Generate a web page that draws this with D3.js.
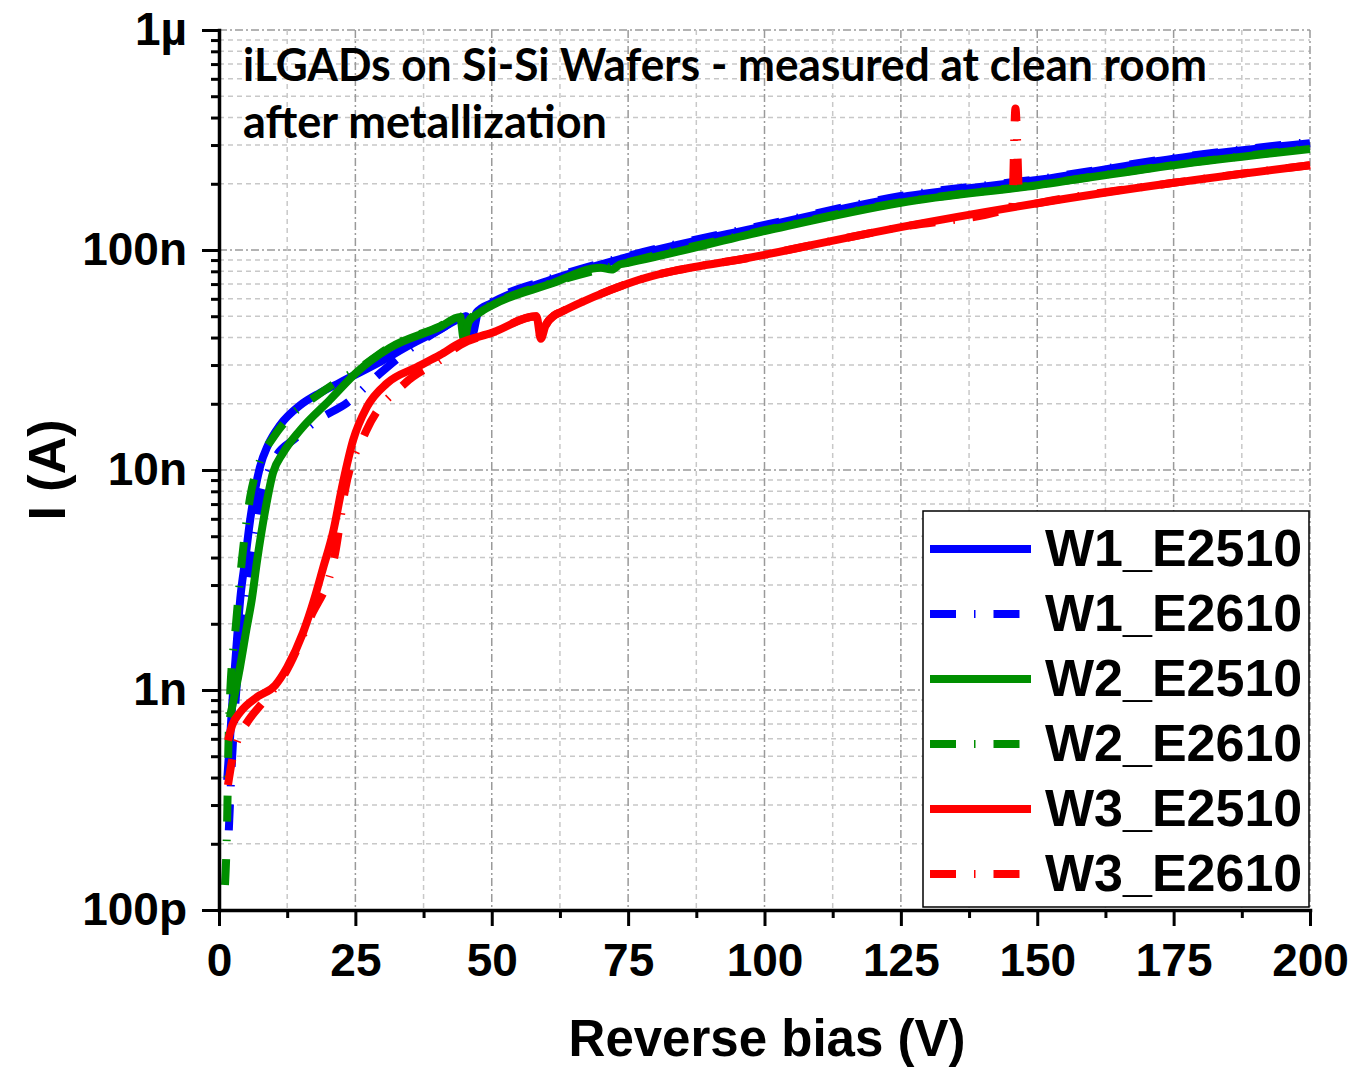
<!DOCTYPE html>
<html>
<head>
<meta charset="utf-8">
<script src="https://cdn.jsdelivr.net/npm/d3@7"></script>
<style>
body { margin: 0; background: #fff; }
svg { display: block; font-family: "Liberation Sans", Arial, sans-serif; font-weight: bold; }
</style>
</head>
<body>
<svg width="1354" height="1068"></svg>
<script>
// tick labels
var yMajor = [1e-10, 1e-9, 1e-8, 1e-7, 1e-6];
var yLabels = ["100p", "1n", "10n", "100n", "1\u00b5"];
var xMajor = [0, 25, 50, 75, 100, 125, 150, 175, 200];
var xMinor = [12.5, 37.5, 62.5, 87.5, 112.5, 137.5, 162.5, 187.5];

// W1_E2510
var v_w1_2510 = [1.5, 2.0, 2.6, 3.3, 3.9, 4.8, 5.7, 6.6, 7.5, 9.0, 11.2, 14.9, 18.5, 22.2, 29.5, 35, 40.5, 44.2, 45.3, 46.2, 47.2, 50, 60.7, 75, 100, 125, 150, 175, 200];
var i_w1_2510 = [3.9e-10, 5.9e-10, 1.0e-9, 1.7e-9, 2.6e-9, 3.9e-9, 5.9e-9, 8.1e-9, 1.03e-8, 1.3e-8, 1.6e-8, 1.97e-8, 2.24e-8, 2.5e-8, 3.1e-8, 3.7e-8, 4.35e-8, 4.9e-8, 5.0e-8, 4.3e-8, 5.2e-8, 5.75e-8, 7.3e-8, 9.3e-8, 1.285e-7, 1.74e-7, 2.08e-7, 2.6e-7, 3.06e-7];
// W1_E2610
var v_w1_2610 = [1.8, 2.4, 3.3, 4.8, 6.2, 7.9, 10, 14.1, 18, 23.5, 29.5, 35, 40.5, 44.2, 45.6, 46.4, 47.5, 50, 60.7, 75, 100, 125, 150, 175, 200];
var i_w1_2610 = [2.3e-10, 4.9e-10, 1.1e-9, 2.6e-9, 4.5e-9, 7.9e-9, 1.1e-8, 1.4e-8, 1.68e-8, 2.02e-8, 2.75e-8, 3.55e-8, 4.35e-8, 4.9e-8, 5.0e-8, 4.1e-8, 5.2e-8, 5.8e-8, 7.4e-8, 9.4e-8, 1.3e-7, 1.76e-7, 2.1e-7, 2.62e-7, 3.1e-7];
// W2_E2510
var v_w2_2510 = [2.0, 3.85, 5.1, 6.0, 7.0, 8.4, 9.9, 11.7, 14.9, 20.3, 25.3, 31.3, 40.5, 44.2, 44.9, 45.7, 47.8, 50, 60.7, 70, 72, 73.5, 75, 100, 125, 150, 175, 200];
var i_w2_2510 = [7.5e-10, 1.27e-9, 1.93e-9, 2.57e-9, 3.9e-9, 6.4e-9, 9.7e-9, 1.19e-8, 1.52e-8, 2.08e-8, 2.79e-8, 3.59e-8, 4.47e-8, 4.96e-8, 3.9e-8, 4.7e-8, 5.2e-8, 5.6e-8, 7.0e-8, 8.3e-8, 8.15e-8, 8.6e-8, 8.75e-8, 1.22e-7, 1.64e-7, 1.97e-7, 2.43e-7, 2.88e-7];
// W2_E2610
var v_w2_2610 = [1.1, 1.5, 1.7, 2.0, 3.1, 4.2, 5.7, 7.5, 9.9, 13, 18.1, 22, 25.3, 31.3, 40.5, 44.2, 45.0, 45.8, 47.8, 50, 60.7, 75, 100, 125, 150, 175, 200];
var i_w2_2610 = [1.3e-10, 2.6e-10, 5.2e-10, 9.0e-10, 1.97e-9, 3.9e-9, 7.5e-9, 1.1e-8, 1.4e-8, 1.75e-8, 2.19e-8, 2.55e-8, 2.85e-8, 3.62e-8, 4.5e-8, 4.98e-8, 4.0e-8, 4.75e-8, 5.25e-8, 5.65e-8, 7.05e-8, 8.8e-8, 1.23e-7, 1.65e-7, 1.98e-7, 2.44e-7, 2.9e-7];
// W3_E2510
var v_w3_2510 = [1.65, 2.4, 3.85, 7.0, 10.3, 12.5, 15.4, 17.4, 19.1, 20.9, 22.7, 24.6, 27.1, 30.8, 36.3, 40.5, 44.2, 50, 58.2, 59.0, 59.8, 61.5, 62.5, 75, 100, 125, 150, 175, 200];
var i_w3_2510 = [5.9e-10, 6.9e-10, 7.9e-10, 9.3e-10, 1.05e-9, 1.27e-9, 1.82e-9, 2.56e-9, 3.6e-9, 5.2e-9, 8.7e-9, 1.37e-8, 1.93e-8, 2.48e-8, 2.94e-8, 3.33e-8, 3.78e-8, 4.2e-8, 5.0e-8, 3.95e-8, 4.5e-8, 5.05e-8, 5.2e-8, 7.05e-8, 9.5e-8, 1.27e-7, 1.63e-7, 2.02e-7, 2.43e-7];
// W3_E2610
var v_w3_2610 = [1.65, 2.4, 3.85, 5.1, 8.4, 12.1, 16.7, 21.3, 23.1, 26.9, 34.1, 40.5, 44.2, 50, 58.2, 59.0, 59.8, 61.5, 62.5, 75, 100, 125, 145.4, 146.0, 146.8, 150, 175, 200];
var i_w3_2610 = [3.7e-10, 4.8e-10, 6.3e-10, 7.1e-10, 9.0e-10, 1.19e-9, 2.12e-9, 4.2e-9, 8.1e-9, 1.49e-8, 2.48e-8, 3.16e-8, 3.7e-8, 4.2e-8, 5.0e-8, 3.95e-8, 4.5e-8, 5.05e-8, 5.2e-8, 7.05e-8, 9.5e-8, 1.27e-7, 1.56e-7, 4.4e-7, 1.57e-7, 1.63e-7, 2.02e-7, 2.43e-7];

var names = ["W1_E2510", "W1_E2610", "W2_E2510", "W2_E2610", "W3_E2510", "W3_E2610"];
var colors = ["#0000ff", "#0000ff", "#008f00", "#008f00", "#ff0000", "#ff0000"];
var dashed = [false, true, false, true, false, true];
var vs = [v_w1_2510, v_w1_2610, v_w2_2510, v_w2_2610, v_w3_2510, v_w3_2610];
var is = [i_w1_2510, i_w1_2610, i_w2_2510, i_w2_2610, i_w3_2510, i_w3_2610];

var series = names.map(function(n, k) {
	return { name: n, color: colors[k], dashed: dashed[k],
		pts: vs[k].map(function(v, j) { return [v, is[k][j]]; }) };
});

var svg = d3.select("svg");
var x = d3.scaleLinear().domain([0, 200]).range([219, 1310]);
var y = d3.scaleLog().domain([1e-10, 1e-6]).range([910, 30]);
var dashPat = "26 18 1.5 18";

// grid
var grid = svg.append("g");
y.ticks().forEach(function(t) {
	var major = Math.abs(Math.log10(t) - Math.round(Math.log10(t))) < 1e-6;
	grid.append("line")
		.attr("x1", 219).attr("x2", 1310).attr("y1", y(t)).attr("y2", y(t))
		.attr("stroke", major ? "#9a9a9a" : "#c8c8c8")
		.attr("stroke-width", 1.5)
		.attr("stroke-dasharray", major ? "8 3 2 3" : "5 4");
});
xMajor.concat(xMinor).forEach(function(t) {
	if (t === 0) return;
	var major = xMajor.indexOf(t) >= 0;
	grid.append("line")
		.attr("x1", x(t)).attr("x2", x(t)).attr("y1", 30).attr("y2", 910)
		.attr("stroke", major ? "#9a9a9a" : "#c8c8c8")
		.attr("stroke-width", 1.5)
		.attr("stroke-dasharray", major ? "8 3 2 3" : "5 4");
});

// curves
var line = d3.line()
	.x(function(d) { return x(d[0]); })
	.y(function(d) { return y(d[1]); })
	.curve(d3.curveMonotoneX);

svg.append("g").selectAll("path")
	.data(series)
	.enter()
	.append("path")
	.attr("d", function(d) { return line(d.pts); })
	.attr("fill", "none")
	.attr("stroke", function(d) { return d.color; })
	.attr("stroke-width", 8)
	.attr("stroke-dasharray", function(d) { return d.dashed ? dashPat : null; });

// axes
var gy = svg.append("g").attr("transform", "translate(219,0)")
	.call(d3.axisLeft(y).tickValues(yMajor).tickFormat(function(d, k) { return yLabels[k]; })
		.tickSize(17).tickPadding(15).tickSizeOuter(0));
var yMinor = y.ticks().filter(function(t) { return yMajor.indexOf(t) < 0; });
var gy2 = svg.append("g").attr("transform", "translate(219,0)")
	.call(d3.axisLeft(y).tickValues(yMinor).tickFormat("").tickSize(8).tickSizeOuter(0));
gy2.select(".domain").remove();

var gx = svg.append("g").attr("transform", "translate(0,910)")
	.call(d3.axisBottom(x).tickValues(xMajor).tickSize(16).tickPadding(17).tickSizeOuter(0));
var gx2 = svg.append("g").attr("transform", "translate(0,910)")
	.call(d3.axisBottom(x).tickValues(xMinor).tickFormat("").tickSize(8).tickSizeOuter(0));
gx2.select(".domain").remove();

svg.selectAll(".domain").attr("stroke", "#000").attr("stroke-width", 3.5).attr("stroke-linecap", "square");
svg.selectAll(".tick line").attr("stroke", "#000").attr("stroke-width", 3);
svg.selectAll(".tick text")
	.attr("fill", "#000")
	.style("font-family", "'Liberation Sans', Arial, sans-serif")
	.style("font-weight", "bold")
	.style("font-size", "46px");

// axis titles
svg.append("text")
	.attr("x", 767).attr("y", 1056)
	.attr("text-anchor", "middle")
	.style("font-size", "51px")
	.text("Reverse bias (V)");
svg.append("text")
	.attr("transform", "translate(65,470) rotate(-90)")
	.attr("text-anchor", "middle")
	.style("font-size", "52px")
	.text("I (A)");

// in-plot title
var title = svg.append("g")
	.style("font-family", "Lato, 'Open Sans', sans-serif")
	.style("font-weight", "bold")
	.style("font-size", "45px");
title.append("text").attr("x", 243).attr("y", 81)
	.attr("textLength", 964).attr("lengthAdjust", "spacingAndGlyphs")
	.text("iLGADs on Si-Si Wafers - measured at clean room");
title.append("text").attr("x", 243).attr("y", 138)
	.attr("textLength", 364).attr("lengthAdjust", "spacingAndGlyphs")
	.text("after metallization");

// legend
var lg = svg.append("g");
lg.append("rect")
	.attr("x", 923).attr("y", 511).attr("width", 386).attr("height", 396)
	.attr("fill", "#fff").attr("stroke", "#000").attr("stroke-width", 1.5);
var item = lg.selectAll(".item")
	.data(series)
	.enter()
	.append("g")
	.attr("class", "item")
	.attr("transform", function(d, k) { return "translate(0," + (549 + 65 * k) + ")"; });
item.append("line")
	.attr("x1", 930).attr("x2", 1031)
	.attr("stroke", function(d) { return d.color; })
	.attr("stroke-width", 8)
	.attr("stroke-dasharray", function(d) { return d.dashed ? dashPat : null; });
item.append("text")
	.attr("x", 1045).attr("y", 17)
	.style("font-size", "52px")
	.text(function(d) { return d.name; });
</script>
</body>
</html>
